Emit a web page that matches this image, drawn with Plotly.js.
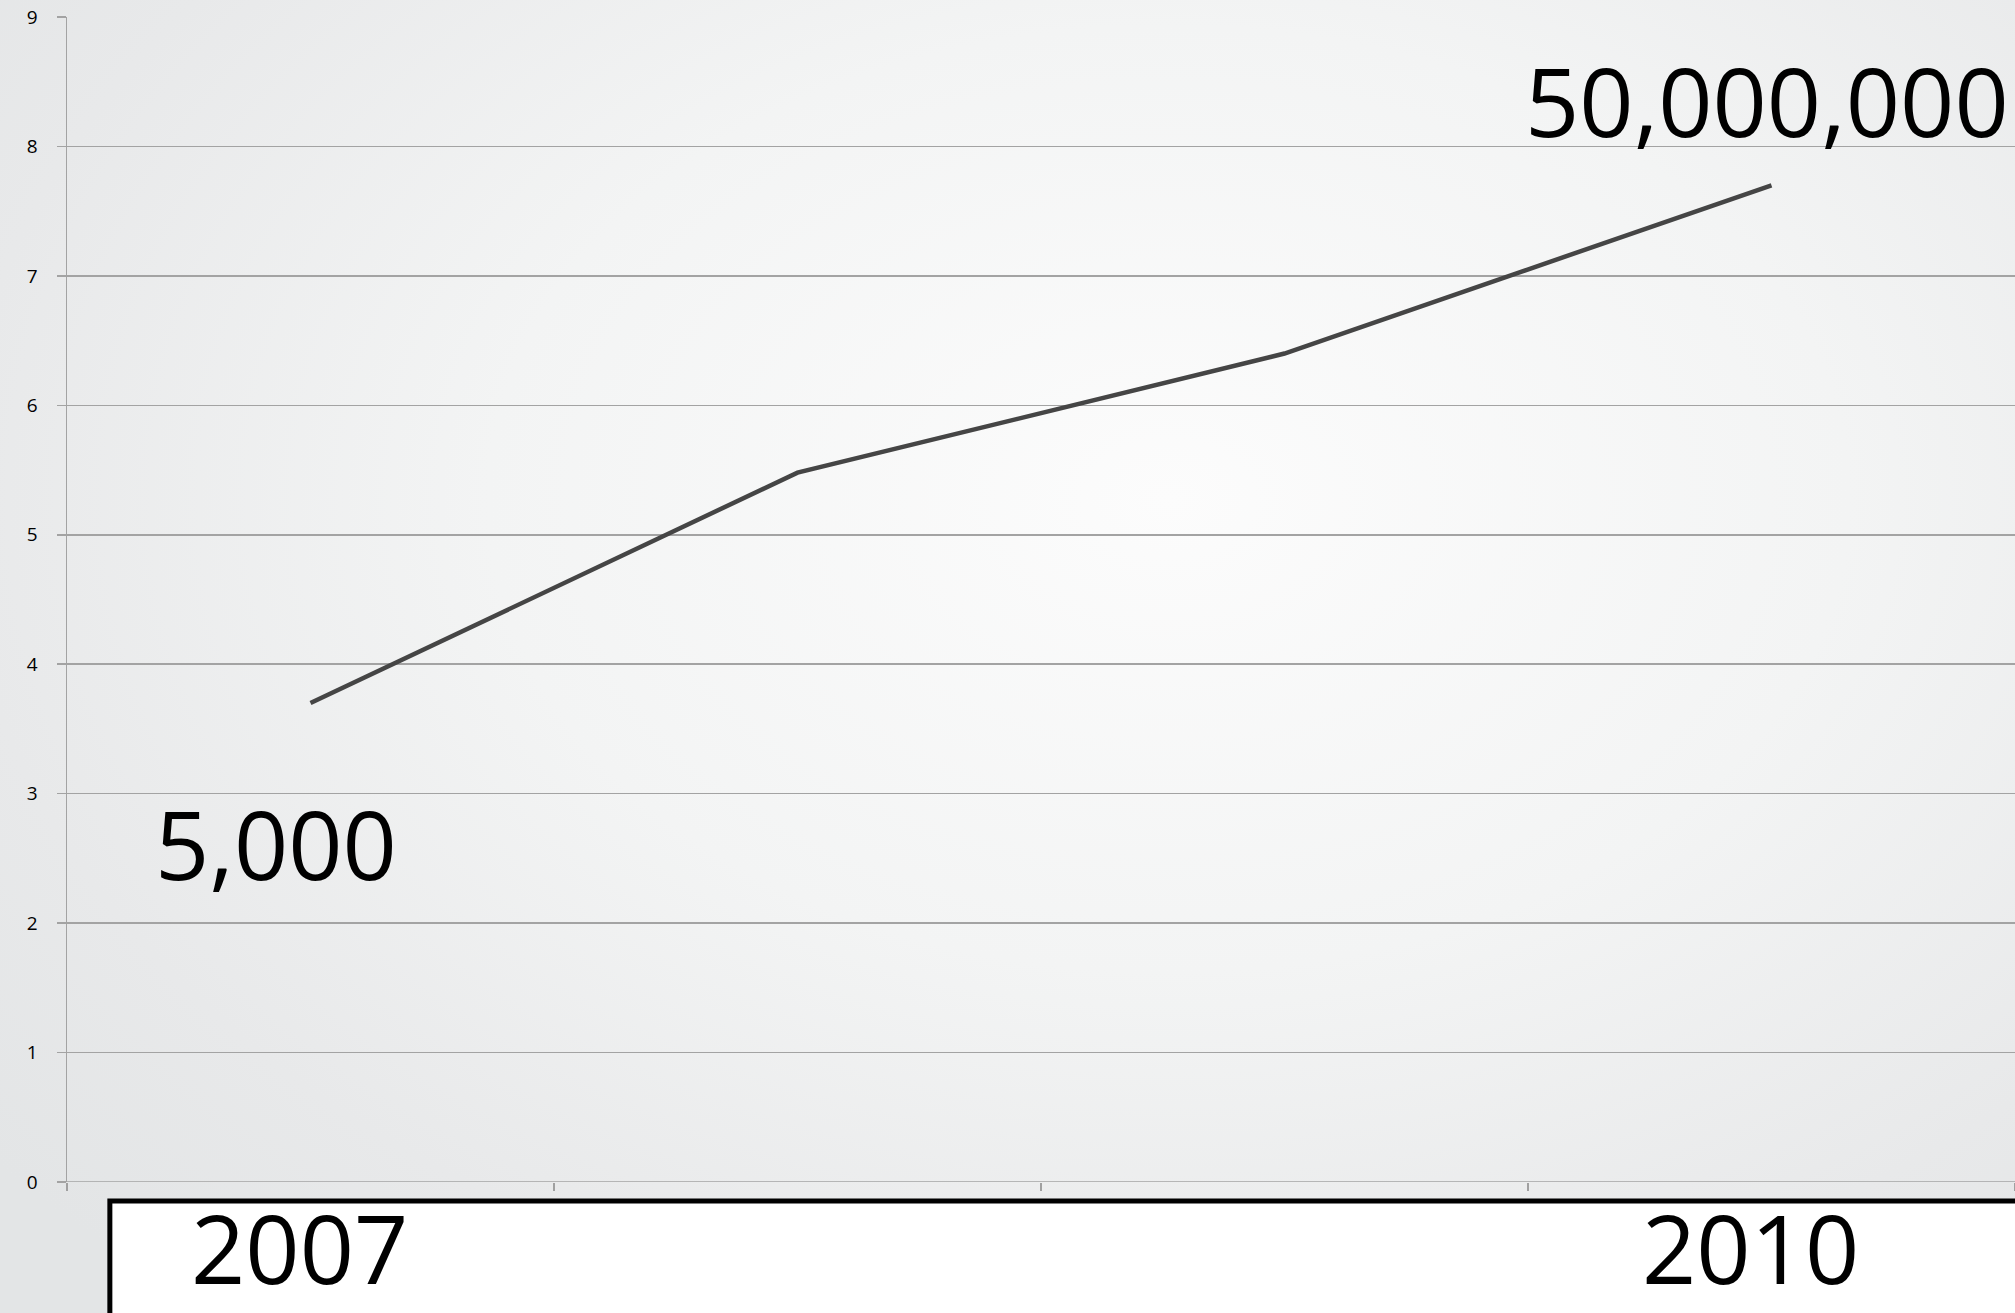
<!DOCTYPE html>
<html>
<head>
<meta charset="utf-8">
<script src="https://cdn.plot.ly/plotly-3.0.1.min.js"></script>
<style>
  html, body { margin: 0; padding: 0; }
  #chart {
    width: 2015px; height: 1313px;
    background: radial-gradient(ellipse 75% 80% at 58% 38%, #fcfcfc 0%, #f3f4f4 45%, #e8e9ea 80%, #e3e5e6 100%);
  }
</style>
</head>
<body>
<div id="chart"></div>
<script>
// Data
const years = ['2007', '2008', '2009', '2010'];
const logValues = [3.7, 5.48, 6.4, 7.7];       // log10 of users
const startLabel = '5,000';
const endLabel = '50,000,000';
const shownYearLabels = ['2007', '2010'];
const yTicks = [0, 1, 2, 3, 4, 5, 6, 7, 8, 9];

const bigFont = { family: 'Open Sans, Lato, sans-serif', size: 95, weight: 500, color: '#000' };

const trace = {
  type: 'scatter',
  mode: 'lines',
  x: years,
  y: logValues,
  line: { color: '#454545', width: 4.5 },
  hoverinfo: 'skip'
};

const layout = {
  width: 2015, height: 1313,
  margin: { l: 67, r: 0, t: 17, b: 131 },
  paper_bgcolor: 'rgba(0,0,0,0)',
  plot_bgcolor: 'rgba(0,0,0,0)',
  showlegend: false,
  xaxis: {
    type: 'category',
    range: [-0.5, 3.5],
    showticklabels: false,
    showgrid: false,
    zeroline: false,
    showline: false,
    ticks: 'outside',
    tickson: 'boundaries',
    ticklen: 8,
    tickwidth: 1.5,
    tickcolor: '#a0a0a0'
  },
  yaxis: {
    range: [0, 9],
    tickvals: yTicks,
    ticktext: yTicks.map(String),
    showgrid: true,
    gridcolor: '#a3a3a3',
    gridwidth: 1.5,
    zeroline: false,
    showline: true,
    linecolor: '#a3a3a3',
    linewidth: 1.5,
    ticks: 'outside',
    ticklen: 9,
    tickwidth: 1.5,
    tickcolor: '#a3a3a3',
    ticklabelstandoff: 15,
    tickfont: { family: 'Open Sans, sans-serif', size: 19, color: '#000' }
  },
  shapes: [
    {
      type: 'line', xref: 'paper', yref: 'y',
      x0: 0, x1: 1, y0: 0, y1: 0,
      line: { color: '#a3a3a3', width: 1.5 }
    },
    {
      type: 'rect', xref: 'paper', yref: 'paper',
      x0: 0.022, x1: 1.02, y0: -0.0163, y1: -0.2,
      fillcolor: '#ffffff',
      line: { color: '#000000', width: 5 },
      layer: 'above'
    }
  ],
  annotations: [
    {
      text: shownYearLabels[0], xref: 'x', yref: 'paper',
      x: years.indexOf(shownYearLabels[0]), y: -0.0555, xshift: -11,
      xanchor: 'center', yanchor: 'middle', showarrow: false, font: bigFont
    },
    {
      text: shownYearLabels[1], xref: 'x', yref: 'paper',
      x: years.indexOf(shownYearLabels[1]), y: -0.0555, xshift: -21,
      xanchor: 'center', yanchor: 'middle', showarrow: false, font: bigFont
    },
    {
      text: startLabel, xref: 'paper', yref: 'paper',
      x: 0.044, y: 0.291, xanchor: 'left', yanchor: 'middle',
      showarrow: false, font: bigFont
    },
    {
      text: endLabel, xref: 'paper', yref: 'paper',
      x: 0.998, y: 0.929, xanchor: 'right', yanchor: 'middle',
      showarrow: false, font: bigFont
    }
  ]
};

Plotly.newPlot('chart', [trace], layout, { displayModeBar: false, staticPlot: true });
</script>
</body>
</html>
